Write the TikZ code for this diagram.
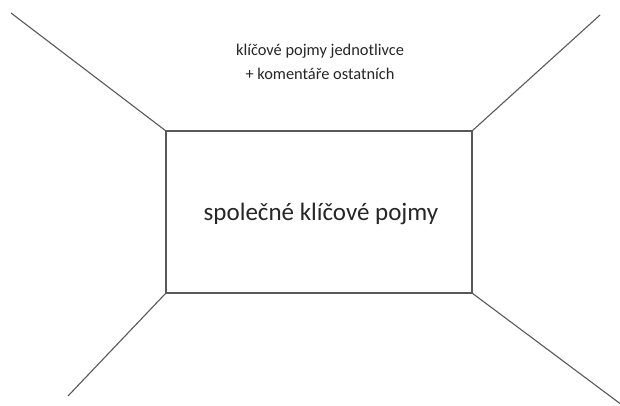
\documentclass[tikz,border=0pt]{standalone}
\usepackage{fontspec}
\setmainfont{Carlito}
\begin{document}
\begin{tikzpicture}[x=1pt,y=-1pt,
  wall/.style={draw=black!65,line width=1.1pt},
  label/.style={inner sep=0pt,text=black!85,align=center}]
\useasboundingbox[fill=white] (0,0) rectangle (620,405);
% back wall
\coordinate (tl) at (166,131);
\coordinate (tr) at (472,131);
\coordinate (br) at (472,293);
\coordinate (bl) at (166,293);
\draw[wall] (tl) rectangle (br);
% outer ends of the edges
\coordinate (otl) at (11,13);
\coordinate (otr) at (600,15);
\coordinate (obl) at (68,396);
\coordinate (obr) at (622,405);
\draw[wall] (tl) -- (otl);
\draw[wall] (tr) -- (otr);
\draw[wall] (bl) -- (obl);
\draw[wall] (br) -- (obr);
\node[label,font=\fontsize{25}{30}\selectfont] (center) at (321,214) {společné klíčové pojmy};
\node[label,font=\fontsize{16.4}{23.5}\selectfont] (top) at (320,62) {klíčové pojmy jednotlivce\\+ komentáře ostatních};
\end{tikzpicture}
\end{document}
